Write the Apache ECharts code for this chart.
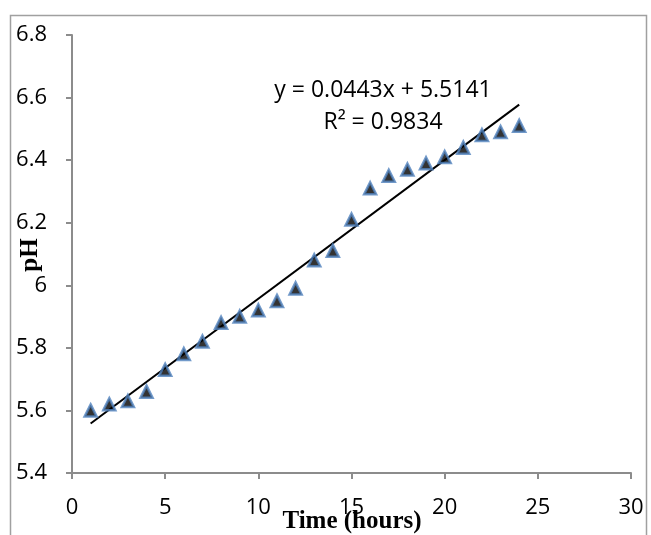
<!DOCTYPE html>
<html>
<head>
<meta charset="utf-8">
<script src="https://cdn.jsdelivr.net/npm/echarts@6/dist/echarts.min.js"></script>
<style>
  html, body { margin: 0; padding: 0; background: #fff; }
  #chart { width: 651px; height: 535px; }
</style>
</head>
<body>
<div id="chart"></div>
<script>
  // time (hours) and measured pH
  const hours = [1, 2, 3, 4, 5, 6, 7, 8, 9, 10, 11, 12, 13, 14, 15, 16, 17, 18, 19, 20, 21, 22, 23, 24]
  const ph = [5.60, 5.62, 5.63, 5.66, 5.73, 5.78, 5.82, 5.88, 5.90, 5.92, 5.95, 5.99,
              6.08, 6.11, 6.21, 6.31, 6.35, 6.37, 6.39, 6.41, 6.44, 6.48, 6.49, 6.51]
  // linear trend shown on the chart
  const slope = 0.0443
  const intercept = 5.5141
  const trendLabel = ['y = 0.0443x + 5.5141', 'R² = 0.9834']

  const chart = echarts.init(document.getElementById('chart'))

  const x0 = hours[0], x1 = hours[hours.length - 1]
  const trend = [[x0, slope * x0 + intercept], [x1, slope * x1 + intercept]]

  const axisGray = '#8c8c8c'
  const labelFont = { fontFamily: 'Open Sans', fontSize: 22, color: '#000' }

  const option = {
    animation: false,
    grid: { left: 72, right: 20, top: 35, bottom: 62 },
    xAxis: {
      type: 'value', min: 0, max: 30, interval: 5,
      axisLine: { lineStyle: { color: axisGray, width: 2 } },
      axisTick: { show: true, length: 6, lineStyle: { color: axisGray, width: 2 } },
      axisLabel: Object.assign({ margin: 24 }, labelFont),
      splitLine: { show: false }
    },
    yAxis: {
      type: 'value', min: 5.4, max: 6.8, interval: 0.2,
      axisLine: { show: true, lineStyle: { color: axisGray, width: 2 } },
      axisTick: { show: true, length: 6, lineStyle: { color: axisGray, width: 2 } },
      axisLabel: Object.assign({ margin: 25, formatter: v => String(+v.toFixed(1)) }, labelFont),
      splitLine: { show: false }
    },
    graphic: [
      { type: 'rect', left: 8, top: 13, shape: { width: 636, height: 540 },
        style: { fill: 'none', stroke: '#a0a0a0', lineWidth: 1.5 }, silent: true },
      { type: 'text', x: 31, y: 255, rotation: Math.PI / 2, style: {
          text: 'pH', font: 'bold 25px "Liberation Serif"', fill: '#000',
          align: 'center', verticalAlign: 'middle' } },
      { type: 'text', x: 352, y: 522, style: {
          text: 'Time (hours)', font: 'bold 25px "Liberation Serif"', fill: '#000',
          align: 'center', verticalAlign: 'middle' } },
      { type: 'text', x: 383, y: 90, style: {
          text: trendLabel[0], font: '23px "Open Sans"', fill: '#000',
          align: 'center', verticalAlign: 'middle' } },
      { type: 'text', x: 383, y: 122, style: {
          text: trendLabel[1], font: '23px "Open Sans"', fill: '#000',
          align: 'center', verticalAlign: 'middle' } }
    ],
    series: [
      {
        type: 'line', data: trend, symbol: 'none', silent: true,
        lineStyle: { color: '#000', width: 2 }, z: 2
      },
      {
        type: 'scatter', data: hours.map((h, i) => [h, ph[i]]),
        symbol: 'triangle', symbolSize: 12,
        itemStyle: { color: '#000', borderColor: '#4F81BD', borderWidth: 2.5 }, z: 3
      }
    ]
  }
  chart.setOption(option)
</script>
</body>
</html>
